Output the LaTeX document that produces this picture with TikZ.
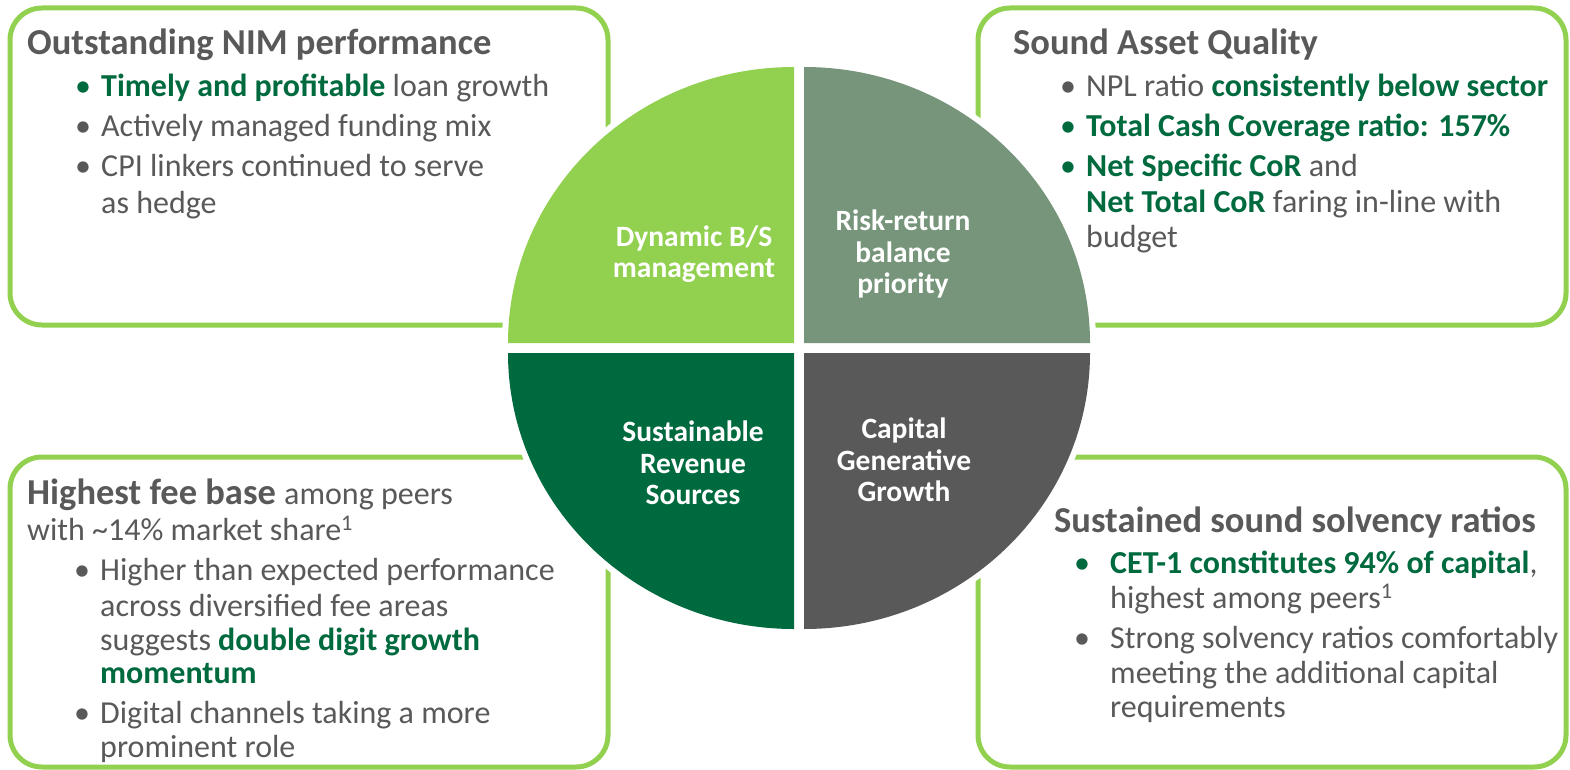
\documentclass[tikz,border=0pt]{standalone}
\usepackage{fontspec}
\setmainfont{Carlito}
\definecolor{lgreen}{HTML}{92D050}
\definecolor{sgreen}{HTML}{76957A}
\definecolor{dgreen}{HTML}{006A3F}
\definecolor{dgray}{HTML}{595959}
\newcommand{\hl}[1]{{\bfseries\color{dgreen}#1}}
\begin{document}
\begin{tikzpicture}[x=1pt,y=-1pt,
  box/.style={draw=lgreen, line width=5pt, rounded corners=32pt},
  ttl/.style={anchor=base west, inner sep=0pt, text=dgray, font=\fontsize{36.5}{40}\selectfont\bfseries},
  txt/.style={anchor=base west, inner sep=0pt, text=dgray, font=\fontsize{32}{36}\selectfont},
  bulg/.style={anchor=base, inner sep=0pt, text=dgreen, font=\fontsize{32}{36}\selectfont},
  bulk/.style={anchor=base, inner sep=0pt, text=dgray, font=\fontsize{32}{36}\selectfont},
  qlab/.style={align=center, text=white, inner sep=0pt, font=\fontsize{29.5}{31.5}\selectfont\bfseries}]
\useasboundingbox (0,0) rectangle (1570,770);
\fill[white] (0,0) rectangle (1570,770);
% boxes
\draw[box] (10,8) rectangle (608,325);
\draw[box] (978,8) rectangle (1566,325);
\draw[box] (10,457) rectangle (608,767);
\draw[box] (978,457) rectangle (1566,767);
% white halo of circle
\foreach \p in {
  {(794,343) -- (508,343) arc[start angle=180, end angle=270, x radius=286, y radius=276] -- cycle},
  {(804,343) -- (804,67) arc[start angle=270, end angle=360, x radius=286, y radius=276] -- cycle},
  {(804,353) -- (1090,353) arc[start angle=0, end angle=90, x radius=286, y radius=276] -- cycle},
  {(794,353) -- (794,629) arc[start angle=90, end angle=180, x radius=286, y radius=276] -- cycle}}
  {\filldraw[white, line width=12pt, line join=round] \p;}
% quadrants
\fill[lgreen] (794,343) -- (508,343) arc[start angle=180, end angle=270, x radius=286, y radius=276] -- cycle;
\fill[sgreen] (804,343) -- (804,67) arc[start angle=270, end angle=360, x radius=286, y radius=276] -- cycle;
\fill[dgray] (804,353) -- (1090,353) arc[start angle=0, end angle=90, x radius=286, y radius=276] -- cycle;
\fill[dgreen] (794,353) -- (794,629) arc[start angle=90, end angle=180, x radius=286, y radius=276] -- cycle;
\node[qlab] (q1) at (694,254) {Dynamic B/S\\management};
\node[qlab] (q2) at (903,254) {Risk-return\\balance\\priority};
\node[qlab] (q3) at (693,463) {Sustainable\\Revenue\\Sources};
\node[qlab] (q4) at (904,460) {Capital\\Generative\\Growth};
% top left
\node[ttl] (a0) at (27,55) {Outstanding NIM performance};
\node[bulg] (ab1) at (83,97) {•};
\node[txt] (a1) at (101,97) {\hl{Timely and profitable} loan growth};
\node[bulk] (ab2) at (83,137) {•};
\node[txt] (a2) at (101,137) {Actively managed funding mix};
\node[bulk] (ab3) at (83,177) {•};
\node[txt] (a3) at (101,177) {CPI linkers continued to serve};
\node[txt] (a4) at (101,213) {as hedge};
% top right
\node[ttl] (b0) at (1013,55) {Sound Asset Quality};
\node[bulk] (bb1) at (1068,97) {•};
\node[txt] (b1) at (1086,97) {NPL ratio \hl{consistently below sector}};
\node[bulg] (bb2) at (1068,137) {•};
\node[txt] (b2) at (1086,137) {\hl{Total Cash Coverage ratio: 157\%}};
\node[bulg] (bb3) at (1068,177) {•};
\node[txt] (b3) at (1086,177) {\hl{Net Specific CoR} and};
\node[txt] (b4) at (1086,212) {\hl{Net Total CoR} faring in-line with};
\node[txt] (b5) at (1086,247) {budget};
% bottom left
\node[ttl] (c0) at (27,504) {Highest fee base {\mdseries\fontsize{32}{36}\selectfont among peers}};
\node[txt] (c0b) at (27,540) {with \textasciitilde14\% market share\textsuperscript{1}};
\node[bulk] (cb1) at (82,580) {•};
\node[txt] (c1) at (100,580) {Higher than expected performance};
\node[txt] (c2) at (100,616) {across diversified fee areas};
\node[txt] (c3) at (100,650) {suggests \hl{double digit growth}};
\node[txt] (c4) at (100,683) {\hl{momentum}};
\node[bulk] (cb2) at (82,723) {•};
\node[txt] (c5) at (100,723) {Digital channels taking a more};
\node[txt] (c6) at (100,757) {prominent role};
% bottom right
\node[ttl] (d0) at (1054,532) {Sustained sound solvency ratios};
\node[bulg] (db1) at (1082,573) {•};
\node[txt] (d1) at (1110,573) {\hl{CET-1 constitutes 94\% of capital},};
\node[txt] (d2) at (1110,608) {highest among peers\textsuperscript{1}};
\node[bulk] (db2) at (1082,648) {•};
\node[txt] (d3) at (1110,648) {Strong solvency ratios comfortably};
\node[txt] (d4) at (1110,683) {meeting the additional capital};
\node[txt] (d5) at (1110,717) {requirements};
\end{tikzpicture}
\end{document}
